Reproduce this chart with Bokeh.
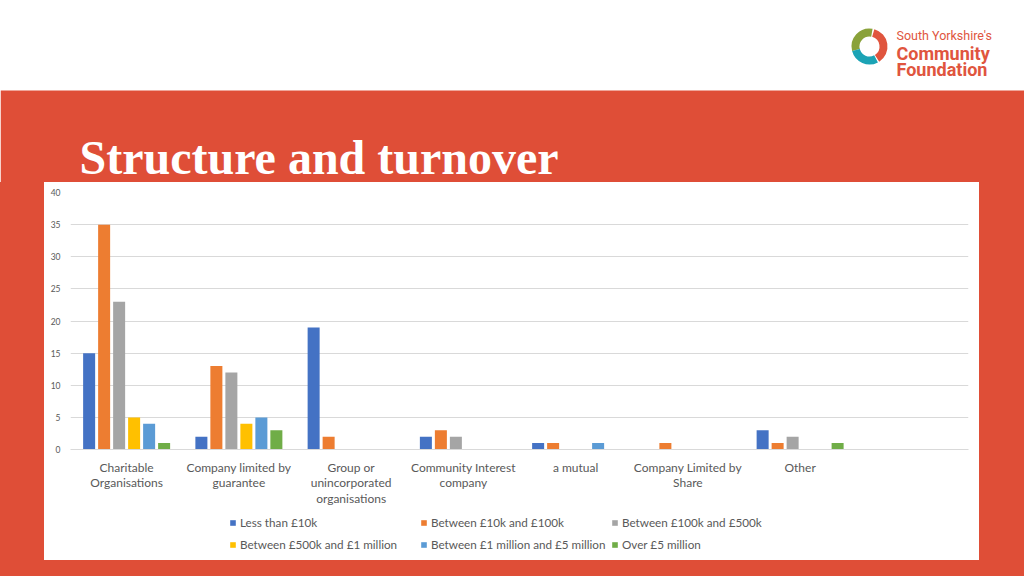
from bokeh.plotting import figure
from bokeh.models import ColumnDataSource, FactorRange, Range1d, Legend, LegendItem, FixedTicker, Spacer, Label
from bokeh.layouts import column, row
from bokeh.transform import dodge
from bokeh.core.properties import value
from bokeh.embed import file_html
from bokeh.resources import INLINE

# ---------------- data ----------------
categories = [
    "Charitable\nOrganisations",
    "Company limited by\nguarantee",
    "Group or\nunincorporated\norganisations",
    "Community Interest\ncompany",
    "a mutual",
    "Company Limited by\nShare",
    "Other",
    " ",
]
series_names = [
    "Less than £10k",
    "Between £10k and £100k",
    "Between £100k and £500k",
    "Between £500k and £1 million",
    "Between £1 million and £5 million",
    "Over £5 million",
]
less_10k = [15, 2, 19, 2, 1, 0, 3, 0]
k10_100k = [35, 13, 2, 3, 1, 1, 1, 0]
k100_500k = [23, 12, 0, 2, 0, 0, 2, 0]
k500_1m = [5, 4, 0, 0, 0, 0, 0, 0]
m1_5m = [4, 5, 0, 0, 1, 0, 0, 0]
over_5m = [1, 3, 0, 0, 0, 0, 1, 0]
y_ticks = [0, 5, 10, 15, 20, 25, 30, 35, 40]
title_text = "Structure and turnover"

series_values = [less_10k, k10_100k, k100_500k, k500_1m, m1_5m, over_5m]
colors = ["#4472C4", "#ED7D31", "#A5A5A5", "#FFC000", "#5B9BD5", "#70AD47"]

RED = "#DF4E37"
LOGO_RED = "#E0553E"
TXT = "#595959"
FONT = "Lato"

W = 1024
HEAD_H = 182          # white band + red title band
PANEL_X0, PANEL_W = 44, 935
CHART_H = 327
LEG_H = 51
BOTTOM_H = 576 - HEAD_H - CHART_H - LEG_H

# ---------------- header (white band + red title band) ----------------
h = figure(width=W, height=HEAD_H, x_range=Range1d(0, W), y_range=Range1d(0, HEAD_H),
           x_axis_type=None, y_axis_type=None, toolbar_location=None,
           output_backend="svg", min_border=0, outline_line_color=None,
           background_fill_color="white", border_fill_color="white")
h.grid.visible = False
h.quad(left=[0], right=[W], bottom=[0], top=[HEAD_H - 90], color=RED, line_color=None)
h.add_layout(Label(x=79, y=HEAD_H - 157, x_units="screen", y_units="screen", text=title_text,
                   text_font="Liberation Serif", text_font_style="bold", text_font_size="48px",
                   text_color="white", text_baseline="alphabetic"))
# logo
cx, cy, r = 869, HEAD_H - 46, 14
h.arc(x=[cx], y=[cy], radius=r, start_angle=1.4, end_angle=3.4, line_width=8, line_color="#8AA23A")
h.arc(x=[cx], y=[cy], radius=r, start_angle=3.4, end_angle=5.2, line_width=8, line_color="#1BA3B5")
h.arc(x=[cx], y=[cy], radius=r, start_angle=-1.0, end_angle=1.3, line_width=8, line_color=LOGO_RED)
h.text(x=[896], y=[HEAD_H - 35], text=["South Yorkshire's"], text_font=value("Roboto"),
       text_font_size="12.5px", text_color=LOGO_RED, text_baseline="alphabetic")
h.text(x=[896], y=[HEAD_H - 53], text=["Community"], text_font=value("Roboto"),
       text_font_style="bold", text_font_size="18px", text_color=LOGO_RED, text_baseline="alphabetic")
h.text(x=[896], y=[HEAD_H - 69], text=["Foundation"], text_font=value("Roboto"),
       text_font_style="bold", text_font_size="18px", text_color=LOGO_RED, text_baseline="alphabetic")

# ---------------- chart ----------------
data = {"cat": categories}
for i, vals in enumerate(series_values):
    data[f"s{i}"] = vals
source = ColumnDataSource(data)

p = figure(width=PANEL_W, height=CHART_H, x_range=FactorRange(factors=categories, range_padding=0),
           y_range=Range1d(0, 40), toolbar_location=None, output_backend="svg",
           frame_width=898, frame_height=257,
           min_border_left=26, min_border_right=11, min_border_top=10, min_border_bottom=60,
           outline_line_color=None, background_fill_color="white", border_fill_color="white")

stride = 0.1336
bar_w = 0.107
for i, (name, col) in enumerate(zip(series_names, colors)):
    p.vbar(x=dodge("cat", (i - 2.5) * stride, range=p.x_range), top=f"s{i}",
           width=bar_w, source=source, fill_color=col, line_color=None)

p.xgrid.visible = False
p.ygrid.grid_line_color = "#D9D9D9"
p.ygrid.grid_line_width = 1

p.yaxis.ticker = FixedTicker(ticks=y_ticks)
p.yaxis.axis_line_color = None
p.yaxis.major_tick_line_color = None
p.yaxis.minor_tick_line_color = None
p.yaxis.major_label_text_font_size = "8.5px"
p.yaxis.major_label_text_color = TXT
p.yaxis.major_label_text_font = FONT
p.yaxis.major_label_standoff = 4

p.xaxis.axis_line_color = "#D9D9D9"
p.xaxis.major_tick_line_color = None
p.xaxis.minor_tick_line_color = None
p.xaxis.major_label_text_font_size = "12px"
p.xaxis.major_label_text_color = TXT
p.xaxis.major_label_text_font = FONT
p.xaxis.major_label_standoff = 4
p.xaxis.major_label_text_line_height = 1.04

# ---------------- legend strip (inside the white panel, below the chart) ----------------
lgf = figure(width=PANEL_W, height=LEG_H, x_range=Range1d(0, 1), y_range=Range1d(0, 1),
             x_axis_type=None, y_axis_type=None, toolbar_location=None,
             output_backend="svg", min_border=0, outline_line_color=None,
             background_fill_color="white", border_fill_color="white")
lgf.grid.visible = False
# zero-height key swatches (only their legend entries are seen)
key_src = ColumnDataSource({"x": [0.5], "top": [0.0]})
items = []
for name, col in zip(series_names, colors):
    rend = lgf.vbar(x="x", top="top", width=0.01, source=key_src, fill_color=col, line_color=None)
    items.append(LegendItem(label=name, renderers=[rend]))

for k, row_items in enumerate((items[:3], items[3:])):
    lg = Legend(items=row_items, orientation="horizontal",
                location=(159, 31 if k == 0 else 9),
                label_text_font=FONT, label_text_font_size="11.7px", label_text_color=TXT,
                glyph_width=7, glyph_height=7, label_standoff=4, spacing=5,
                label_width=175, label_height=14, padding=0, margin=0,
                border_line_color=None, background_fill_alpha=0)
    lgf.add_layout(lg, "center")

left_pad = Spacer(width=PANEL_X0, height=CHART_H + LEG_H, margin=0, styles={"background-color": RED})
right_pad = Spacer(width=W - PANEL_X0 - PANEL_W, height=CHART_H + LEG_H, margin=0,
                   styles={"background-color": RED})
bottom_pad = Spacer(width=W, height=BOTTOM_H, margin=0, styles={"background-color": RED})

panel = column(p, lgf, spacing=0)
layout = column(h, row(left_pad, panel, right_pad, spacing=0), bottom_pad, spacing=0)

open("out.html", "w").write(file_html(layout, INLINE))
